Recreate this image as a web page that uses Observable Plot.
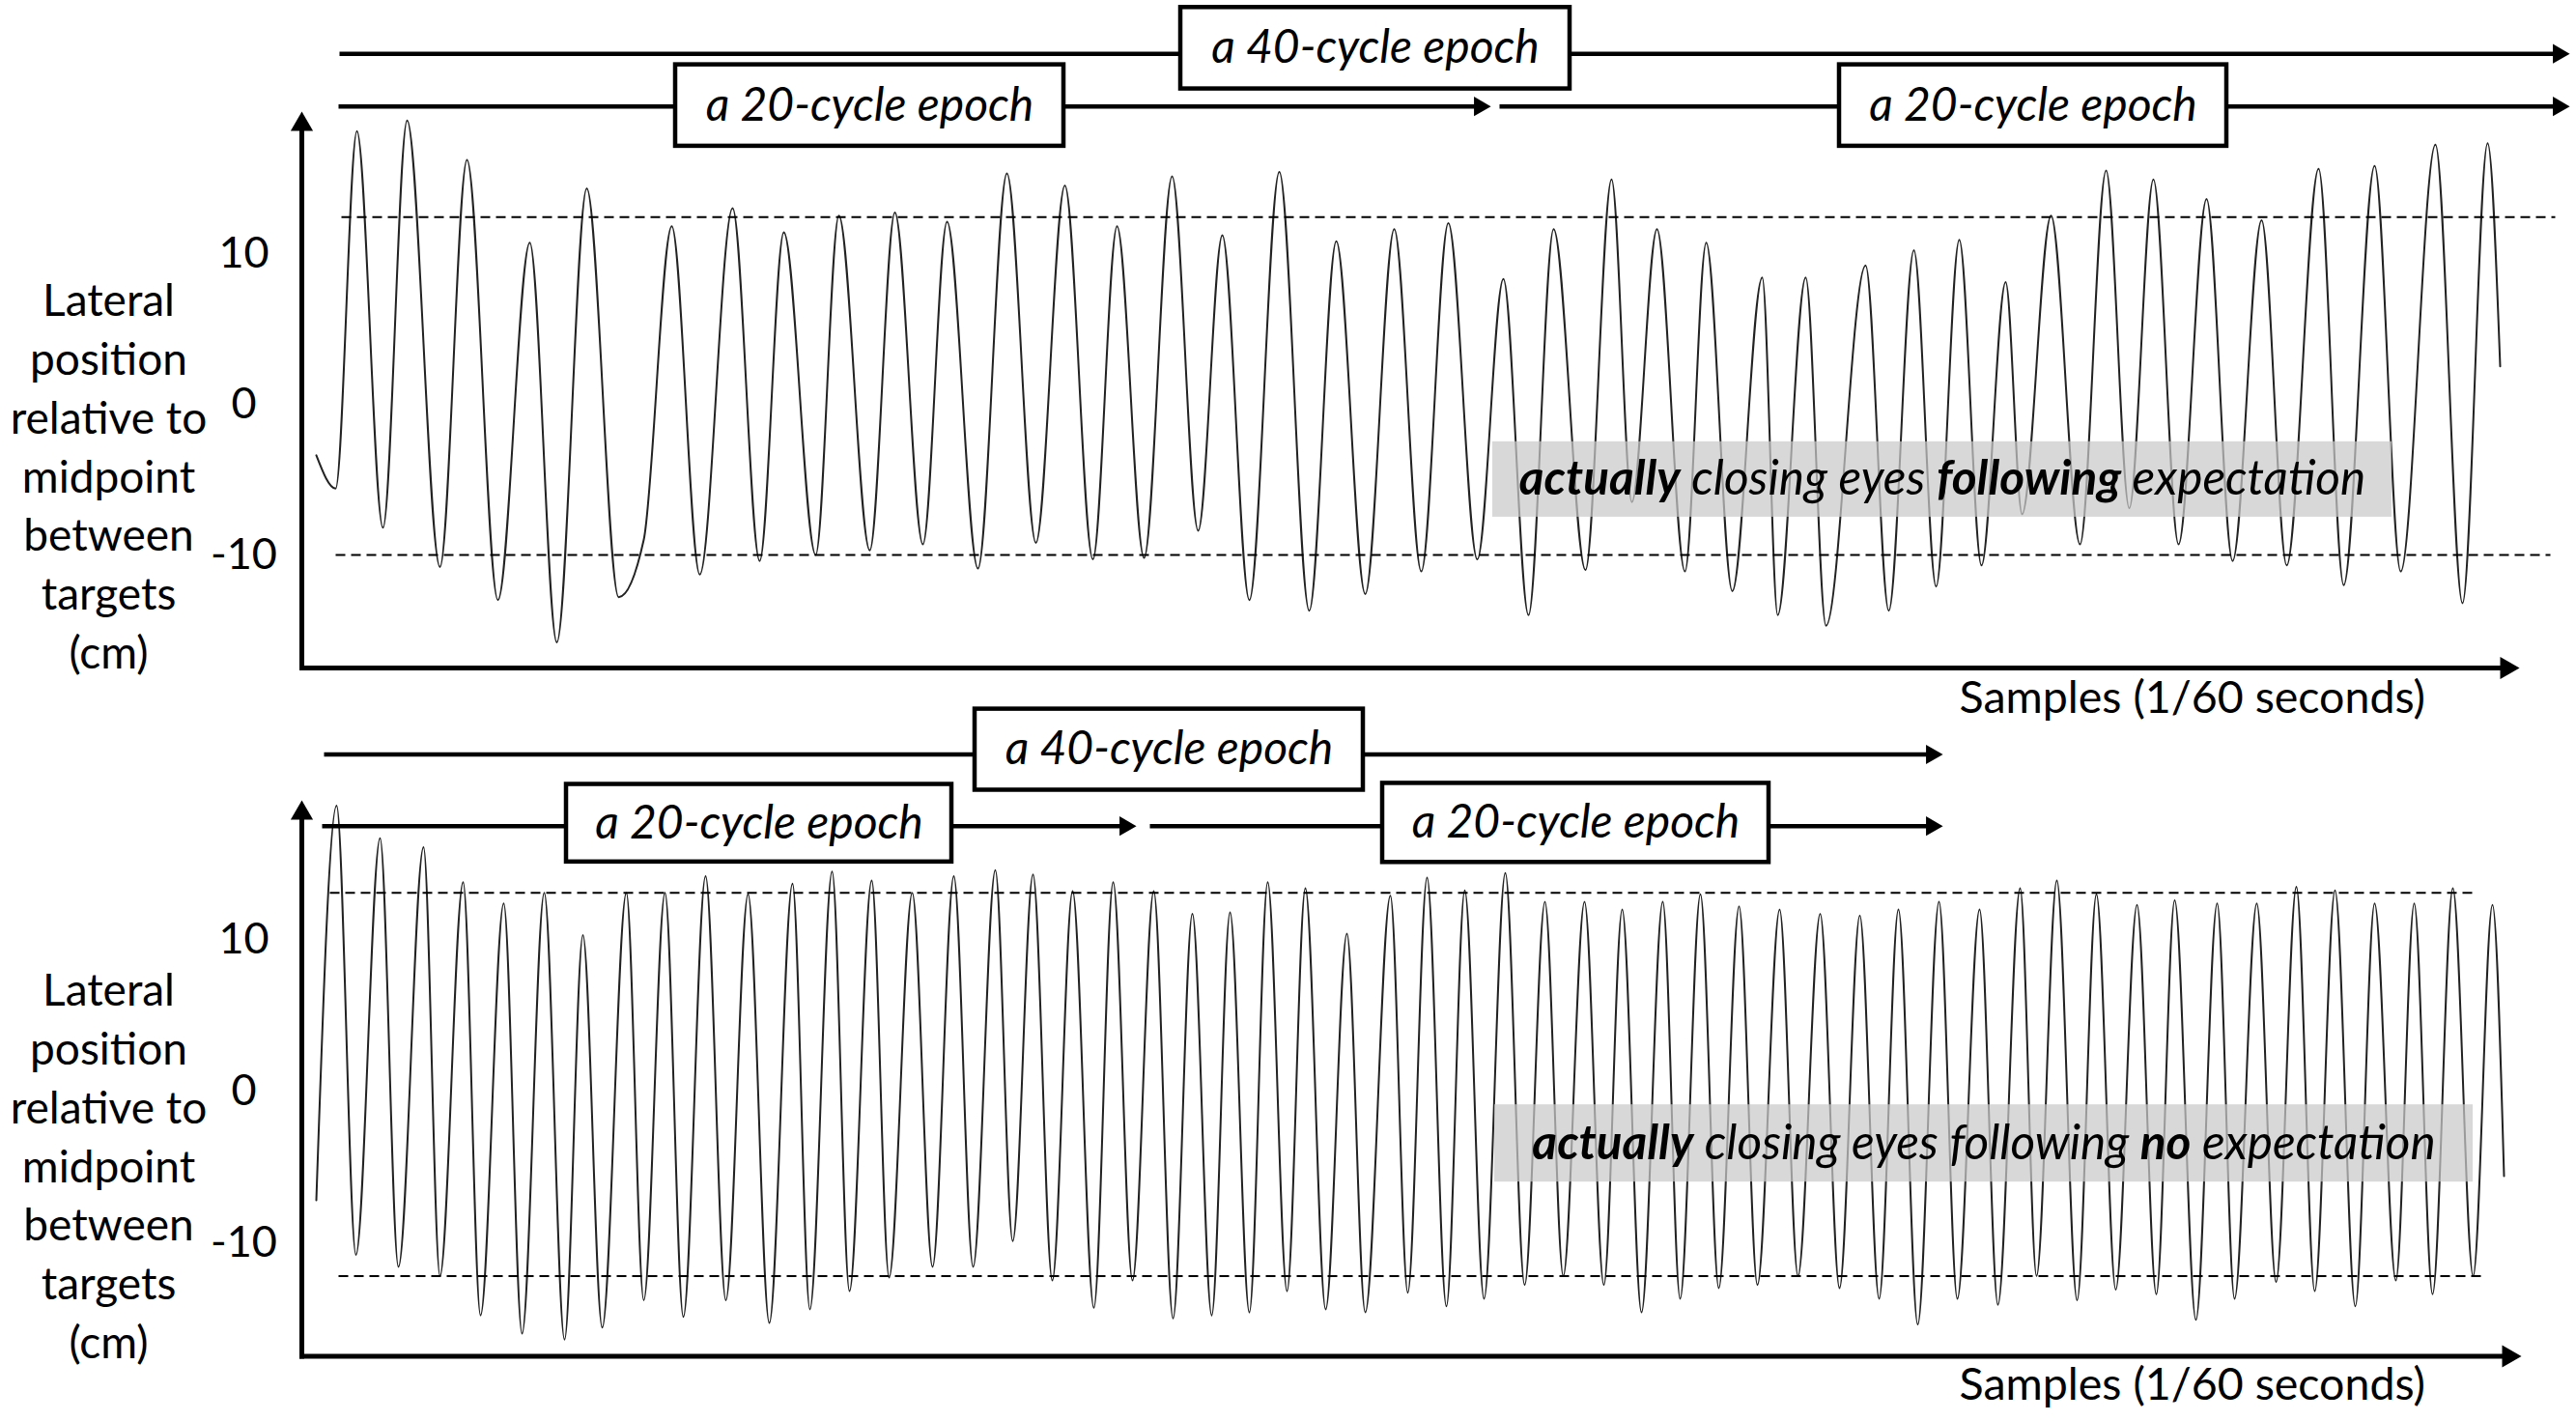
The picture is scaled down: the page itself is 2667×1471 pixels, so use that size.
<!DOCTYPE html>
<html>
<head>
<meta charset="utf-8">
<script src="https://cdn.jsdelivr.net/npm/d3@7"></script>
<script src="https://cdn.jsdelivr.net/npm/@observablehq/plot@0.6"></script>
<style>
  html, body { margin: 0; padding: 0; background: #fff; }
  #top, #bottom { width: 2667px; display: block; }
  svg { overflow: visible; display: block; }
</style>
</head>
<body>
<div id="top"></div>
<div id="bottom"></div>
<script>
// ---------------- DATA ----------------
// Top trace: turning points (sample index, lateral position in cm)
const topSamples = [15, 35, 57, 84, 109, 143, 171, 203, 236, 264, 295, 328, 354, 383, 412, 446, 474, 499, 532, 556,
  588, 614, 643, 668, 700, 730, 760, 790, 819, 844, 872, 901, 928, 953, 981, 1012, 1043, 1071, 1101, 1131,
  1159, 1187, 1217, 1244, 1270, 1296, 1329, 1356, 1377, 1403, 1432, 1454, 1481, 1512, 1528, 1557, 1578, 1619, 1643, 1669,
  1692, 1716, 1739, 1764, 1781, 1811, 1841, 1868, 1892, 1917, 1943, 1972, 1999, 2029, 2055, 2088, 2114, 2146, 2173, 2209,
  2237, 2263, 2276];
const topPosition = [-3.4, -5.6, 18.1, -8.2, 18.8, -10.8, 16.2, -13.0, 10.7, -15.8, 14.3, -12.8, -9.0, 11.8, -11.3, 13.0, -10.4, 11.4, -10.0, 12.5,
  -9.7, 12.7, -9.3, 12.1, -10.9, 15.3, -9.2, 14.5, -10.3, 11.8, -10.2, 15.1, -8.4, 11.2, -13.0, 15.4, -13.7, 10.8, -12.6, 11.6,
  -11.1, 12.0, -10.3, 8.3, -14.0, 11.6, -11.0, 14.9, -6.5, 11.6, -11.1, 10.7, -12.4, 8.4, -14.0, 8.4, -14.7, 9.2, -13.7, 10.2,
  -12.1, 10.9, -10.7, 8.1, -7.3, 12.5, -9.3, 15.5, -6.9, 14.9, -9.3, 13.6, -10.4, 12.2, -10.7, 15.6, -12.0, 15.8, -11.1, 17.2,
  -13.2, 17.3, 2.5];

// Bottom trace
const bottomSamples = [15, 36, 56, 81, 100, 126, 143, 167, 185, 209, 228, 251, 272, 291, 311, 336, 354, 376, 395, 418,
  439, 462, 484, 508, 526, 549, 567, 590, 608, 632, 653, 675, 695, 718, 736, 757, 777, 798, 820, 840,
  860, 882, 902, 922, 942, 961, 981, 1000, 1020, 1039, 1060, 1082, 1101, 1127, 1145, 1165, 1185, 1204, 1224, 1246,
  1266, 1287, 1306, 1328, 1348, 1367, 1387, 1409, 1427, 1448, 1467, 1488, 1507, 1530, 1549, 1572, 1592, 1613, 1633, 1653,
  1673, 1695, 1714, 1737, 1756, 1779, 1796, 1817, 1838, 1858, 1878, 1900, 1920, 1939, 1961, 1983, 2001, 2024, 2044, 2065,
  2084, 2105, 2126, 2146, 2168, 2187, 2206, 2227, 2248, 2268, 2280];
const bottomPosition = [-7.2, 18.85, -10.8, 16.7, -11.6, 16.1, -12.2, 13.8, -14.8, 12.4, -16.0, 13.1, -16.4, 10.3, -15.6, 13.1, -13.8, 13.1, -14.9, 14.2,
  -13.8, 13.0, -15.3, 13.7, -14.4, 14.5, -13.2, 13.9, -12.3, 13.1, -11.6, 14.2, -11.6, 14.6, -9.9, 14.3, -12.5, 13.2, -14.3, 13.8,
  -12.5, 13.2, -15.0, 11.7, -14.8, 11.8, -14.6, 13.8, -13.2, 13.4, -14.4, 10.4, -14.6, 12.9, -13.3, 14.1, -14.2, 13.25, -13.7, 14.4,
  -12.8, 12.5, -12.2, 12.5, -12.8, 12.0, -14.6, 12.5, -13.7, 13.0, -13.0, 12.2, -12.8, 12.0, -12.2, 11.7, -13.0, 11.6, -13.7, 12.0,
  -15.4, 12.5, -13.7, 12.0, -14.1, 13.4, -12.2, 13.9, -13.8, 13.0, -13.1, 12.3, -13.4, 12.6, -15.1, 12.4, -13.7, 12.4, -12.6, 13.5,
  -13.2, 13.25, -14.2, 12.4, -12.5, 12.4, -13.4, 13.4, -12.2, 12.3, -5.6];

// Target bands (dashed lines), cm, with sample extent
const topTargets = [{y: 12.4, from: 41, to: 2333}, {y: -10.0, from: 35, to: 2328}];
const bottomTargets = [{y: 13.1, from: 29, to: 2248}, {y: -12.2, from: 38, to: 2257}];

// Epoch spans (sample ranges) and their label boxes
const topEpochSpans = [{from: 39, to: 2348, level: 23.23}, {from: 38, to: 1231, level: 19.74}, {from: 1240, to: 2348, level: 19.74}];
const topEpochBoxes = [
  {label: "a 40-cycle epoch", from: 910, to: 1313, lo: 20.9, hi: 26.3},
  {label: "a 20-cycle epoch", from: 387, to: 789, lo: 17.1, hi: 22.5},
  {label: "a 20-cycle epoch", from: 1592, to: 1993, lo: 17.1, hi: 22.5}
];
const bottomEpochSpans = [{from: 23, to: 1699, level: 22.23}, {from: 21, to: 864, level: 17.5}, {from: 878, to: 1699, level: 17.5}];
const bottomEpochBoxes = [
  {label: "a 40-cycle epoch", from: 697, to: 1099, lo: 19.87, hi: 25.22},
  {label: "a 20-cycle epoch", from: 274, to: 673, lo: 15.13, hi: 20.25},
  {label: "a 20-cycle epoch", from: 1119, to: 1519, lo: 15.1, hi: 20.32}
];

// Grey condition notes
const topNote = [["actually", true], [" closing eyes ", false], ["following", true], [" expectation", false]];
const bottomNote = [["actually", true], [" closing eyes following ", false], ["no", true], [" expectation", false]];
const topNoteBox = {from: 1233, to: 2164, lo: -7.5, hi: -2.5};
const bottomNoteBox = {from: 1235, to: 2248, lo: -6.0, hi: -0.9};

// Axis text
const yTicks = [-10, 0, 10];
const yTickLabels = ["-10", "0", "10"];
const yTitleLines = ["Lateral", "position", "relative to", "midpoint", "between", "targets", "(cm)"];
const xTitle = "Samples (1/60 seconds)";

// ---------------- DRAWING ----------------
const FONT = "Lato";

function boldify(svg, segments) {
  const full = segments.map(d => d[0]).join("");
  for (const t of svg.querySelectorAll("text")) {
    if (t.textContent === full) {
      t.textContent = "";
      t.setAttribute("xml:space", "preserve");
      t.style.whiteSpace = "pre";
      for (const [str, bold] of segments) {
        const ts = document.createElementNS("http://www.w3.org/2000/svg", "tspan");
        ts.textContent = str;
        if (bold) ts.setAttribute("font-weight", "bold");
        t.appendChild(ts);
      }
    }
  }
}

function panel(cfg) {
  const trace = cfg.samples.map((s, i) => ({sample: s, position: cfg.positions[i]}));
  const pxPerUnit = (cfg.height - cfg.marginTop - cfg.marginBottom) / (cfg.yMax - cfg.yMin);
  const axisHead = 14; // px the shaft stops short of the tip
  const epochHead = 12;
  const noteText = cfg.note.map(d => d[0]).join("");
  const nb = cfg.noteBox;

  const svg = Plot.plot({
    width: 2667,
    height: cfg.height,
    marginLeft: 312,
    marginRight: 55,
    marginTop: cfg.marginTop,
    marginBottom: cfg.marginBottom,
    x: {domain: [0, 2300], axis: null},
    y: {domain: [cfg.yMin, cfg.yMax], axis: null},
    style: {fontFamily: FONT, background: "transparent", overflow: "visible", color: "black"},
    marks: [
      // trace
      Plot.line(trace, {x: "sample", y: "position", curve: "monotone-x", stroke: "#222", strokeWidth: 2}),
      // dashed target lines
      Plot.link(cfg.targets, {x1: "from", x2: "to", y1: "y", y2: "y", stroke: "black", strokeWidth: 2, strokeDasharray: "10,6"}),
      // grey translucent note box
      Plot.rect([nb], {x1: "from", x2: "to", y1: "lo", y2: "hi", fill: "#c9c9c9", fillOpacity: 0.72}),
      Plot.text([noteText], {x: (nb.from + nb.to) / 2, y: (nb.lo + nb.hi) / 2, text: d => d, fontSize: cfg.noteSize,
        fontStyle: "italic", textAnchor: "middle", fill: "black"}),
      // axes
      Plot.link([{x1: 0, x2: 0, y1: cfg.yMin, y2: cfg.yMax - axisHead / pxPerUnit}],
        {x1: "x1", x2: "x2", y1: "y1", y2: "y2", stroke: "black", strokeWidth: 5, strokeLinecap: "square"}),
      Plot.link([{x1: 0, x2: cfg.xTip - axisHead, y1: cfg.yMin, y2: cfg.yMin}],
        {x1: "x1", x2: "x2", y1: "y1", y2: "y2", stroke: "black", strokeWidth: 5, strokeLinecap: "square"}),
      Plot.dot([{x: 0, y: cfg.yMax}], {x: "x", y: "y", symbol: "triangle", r: 8.6, fill: "black", stroke: "none", dy: 13.3}),
      Plot.dot([{x: cfg.xTip, y: cfg.yMin}], {x: "x", y: "y", symbol: "triangle", r: 8.6, rotate: 90, fill: "black", stroke: "none", dx: -13.3}),
      // epoch spans
      Plot.link(cfg.spans, {x1: "from", x2: d => d.to - epochHead, y1: "level", y2: "level", stroke: "black", strokeWidth: 4.5}),
      Plot.dot(cfg.spans, {x: "to", y: "level", symbol: "triangle", r: 7.5, rotate: 90, fill: "black", stroke: "none", dx: -11.6}),
      Plot.rect(cfg.boxes, {x1: "from", x2: "to", y1: "lo", y2: "hi", fill: "white", stroke: "black", strokeWidth: 4.5}),
      Plot.text(cfg.boxes, {x: d => (d.from + d.to) / 2, y: d => (d.lo + d.hi) / 2, text: "label", fontSize: 48,
        fontStyle: "italic", textAnchor: "middle", fill: "black"}),
      // tick labels
      Plot.text(yTicks, {y: d => d, text: (d, i) => yTickLabels[i], frameAnchor: "left", dx: -60, textAnchor: "middle", fontSize: 45, fill: "black"}),
      // y title
      Plot.text([yTitleLines.join("\n")], {frameAnchor: "left", y: cfg.yTitleAt, dx: -200, text: d => d, textAnchor: "middle",
        lineHeight: 1.32, fontSize: 46, fill: "black"}),
      // x title
      Plot.text([xTitle], {x: 1716, y: cfg.xTitleAt, text: d => d, textAnchor: "start", fontSize: 46.5, fill: "black"})
    ]
  });
  boldify(svg, cfg.note);
  return svg;
}

document.getElementById("top").appendChild(panel({
  samples: topSamples, positions: topPosition, targets: topTargets,
  spans: topEpochSpans, boxes: topEpochBoxes, note: topNote, noteBox: topNoteBox, noteSize: 49.5,
  height: 735, marginTop: 115, marginBottom: 44, yMin: -17.5, yMax: 19.4,
  xTip: 2296, yTitleAt: -4.6, xTitleAt: -19.55
}));
document.getElementById("bottom").appendChild(panel({
  samples: bottomSamples, positions: bottomPosition, targets: bottomTargets,
  spans: bottomEpochSpans, boxes: bottomEpochBoxes, note: bottomNote, noteBox: bottomNoteBox, noteSize: 49.5,
  height: 736, marginTop: 93, marginBottom: 67.5, yMin: -17.5, yMax: 19.2,
  xTip: 2298, yTitleAt: -4.75, xTitleAt: -19.4
}));
</script>
</body>
</html>
